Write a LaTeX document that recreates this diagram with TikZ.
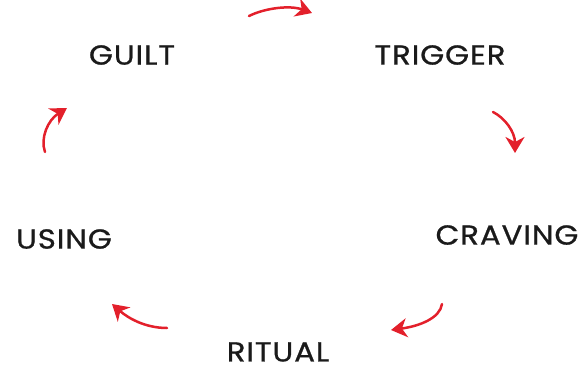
\documentclass[tikz,border=0pt]{standalone}
\usepackage{fontspec}
\setmainfont{Poppins}[LetterSpace=3,FakeBold=0.8]
\usetikzlibrary{arrows.meta}
\definecolor{arrowred}{HTML}{E3202B}
\definecolor{txt}{HTML}{1A1A1A}
\tikzset{
  word/.style={text=txt, font=\fontsize{27.5}{27.5}\selectfont, inner sep=0pt, anchor=center, xscale=1.12},
  cyc/.style={draw=arrowred, line width=2.5pt, line cap=round, -{Stealth[length=16pt,width=19pt,inset=5pt]}}
}
\begin{document}
\begin{tikzpicture}[x=1pt,y=-1pt]
\useasboundingbox (0,0) rectangle (588,372);
\node[word] (guilt) at (132,55) {GUILT};
\node[word] (trigger) at (440,55) {TRIGGER};
\node[word] (craving) at (507,235) {CRAVING};
\node[word] (ritual) at (278,352) {RITUAL};
\node[word] (using) at (64,239) {USING};
\coordinate (a1s) at (249,16); \coordinate (a1e) at (312,13);
\coordinate (a2s) at (493,112); \coordinate (a2e) at (515,153);
\coordinate (a3s) at (442,304); \coordinate (a3e) at (391,330);
\coordinate (a4s) at (167,328); \coordinate (a4e) at (112,304);
\coordinate (a5s) at (45,152); \coordinate (a5e) at (67,108);
\draw[cyc] (a1s) .. controls (265,8) and (290,5) .. (a1e);
\draw[cyc] (a2s) .. controls (505,118) and (515,132) .. (a2e);
\draw[cyc] (a3s) .. controls (440,318) and (420,326) .. (a3e);
\draw[cyc] (a4s) .. controls (145,328) and (128,318) .. (a4e);
\draw[cyc] (a5s) .. controls (40,138) and (48,120) .. (a5e);
\end{tikzpicture}
\end{document}
